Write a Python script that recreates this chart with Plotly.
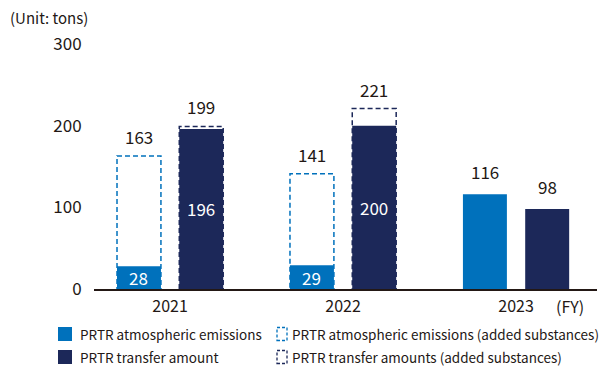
import plotly.graph_objects as go

# ---- data ----
years = ["2021", "2022", "2023"]
atmos = [28, 29, 116]                 # PRTR atmospheric emissions
atmos_added_total = [163, 141, None]  # incl. added substances
transfer = [196, 200, 98]             # PRTR transfer amount
transfer_added_total = [199, 221, None]
y_ticks = [0, 100, 200, 300]

legend_labels = [
    "PRTR atmospheric emissions",
    "PRTR transfer amount",
    "PRTR atmospheric emissions (added substances)",
    "PRTR transfer amounts (added substances)",
]

# ---- style ----
BLUE = "#0071BC"
NAVY = "#1C2859"
TXT = "#231815"
FONT = "Noto Sans CJK JP"
W, H = 601, 367
ML, MR, MT, MB = 94, 4, 44, 78
PW, PH = W - ML - MR, H - MT - MB

OFF = 0.18
HALF = 0.127


def px(xp):
    return (xp - ML) / PW


def py(yp):
    return (H - MB - yp) / PH


fig = go.Figure()
fig.add_trace(go.Bar(x=years, y=atmos, marker=dict(color=BLUE, line=dict(width=0)),
                     name=legend_labels[0], hoverinfo="skip"))
fig.add_trace(go.Bar(x=years, y=transfer, marker=dict(color=NAVY, line=dict(width=0)),
                     name=legend_labels[1], hoverinfo="skip"))

shapes = []
annotations = []

for i, y in enumerate(years):
    for vals, tots, off, col in ((atmos, atmos_added_total, -OFF, BLUE),
                                 (transfer, transfer_added_total, OFF, NAVY)):
        v, t = vals[i], tots[i]
        cx = i + off
        if t is not None:
            shapes.append(dict(type="rect", xref="x", yref="y", x0=cx - HALF, x1=cx + HALF,
                               y0=0, y1=t, layer="below",
                               line=dict(color=col, width=1.5, dash="5px,3px"),
                               fillcolor="rgba(0,0,0,0)"))
            annotations.append(dict(x=cx, y=t, xref="x", yref="y", text=str(t),
                                    showarrow=False, yanchor="bottom", yshift=5,
                                    font=dict(size=17, color=TXT, family=FONT)))
            annotations.append(dict(x=cx, y=v / 2, xref="x", yref="y", text=str(v),
                                    showarrow=False, yanchor="middle",
                                    font=dict(size=17, color="white", family=FONT)))
        else:
            annotations.append(dict(x=cx, y=v, xref="x", yref="y", text=str(v),
                                    showarrow=False, yanchor="bottom", yshift=8,
                                    font=dict(size=17, color=TXT, family=FONT)))

# unit label and FY
annotations.append(dict(x=px(8), y=py(17), xref="paper", yref="paper", text="(Unit: tons)",
                        showarrow=False, xanchor="left", yanchor="middle",
                        font=dict(size=15, color=TXT, family=FONT)))
annotations.append(dict(x=px(570), y=py(306), xref="paper", yref="paper", text="(FY)",
                        showarrow=False, xanchor="center", yanchor="middle",
                        font=dict(size=16, color=TXT, family=FONT)))

# legend (manual)
leg = [
    (58, 334, legend_labels[0], BLUE, False),
    (58, 357, legend_labels[1], NAVY, False),
    (276, 334, legend_labels[2], BLUE, True),
    (276, 357, legend_labels[3], NAVY, True),
]
for x0, yc, lab, col, dashed in leg:
    if dashed:
        shapes.append(dict(type="rect", xref="paper", yref="paper",
                           x0=px(x0 + 1), x1=px(x0 + 11), y0=py(yc + 6.5), y1=py(yc - 6.5),
                           line=dict(color=col, width=1.3, dash="3px,2px"),
                           fillcolor="rgba(0,0,0,0)"))
        tx = x0 + 14
    else:
        shapes.append(dict(type="rect", xref="paper", yref="paper",
                           x0=px(x0), x1=px(x0 + 14), y0=py(yc + 7), y1=py(yc - 7),
                           line=dict(width=0), fillcolor=col))
        tx = x0 + 20
    annotations.append(dict(x=px(tx), y=py(yc), xref="paper", yref="paper", text=lab,
                            showarrow=False, xanchor="left", yanchor="middle",
                            font=dict(size=13.5, color=TXT, family=FONT)))

fig.update_layout(
    width=W, height=H,
    margin=dict(l=ML, r=MR, t=MT, b=MB),
    paper_bgcolor="white", plot_bgcolor="white",
    barmode="group", bargap=0.28, bargroupgap=0.294,
    showlegend=False,
    shapes=shapes, annotations=annotations,
    font=dict(family=FONT, color=TXT),
    xaxis=dict(type="category", range=[-0.44, 2.468], showgrid=False, zeroline=False,
               showline=True, linecolor=TXT, linewidth=2,
               ticks="outside", ticklen=2, tickcolor="rgba(0,0,0,0)",
               tickfont=dict(size=16, color=TXT, family=FONT), fixedrange=True),
    yaxis=dict(range=[0, 300], tickvals=y_ticks, showgrid=False, zeroline=False,
               showline=False, ticks="outside", ticklen=8, tickcolor="rgba(0,0,0,0)",
               tickfont=dict(size=17, color=TXT, family=FONT), fixedrange=True),
)

fig.write_html("out.html", config={"displayModeBar": False},
               post_script="document.body.style.margin='0';document.body.style.overflow='hidden';")
